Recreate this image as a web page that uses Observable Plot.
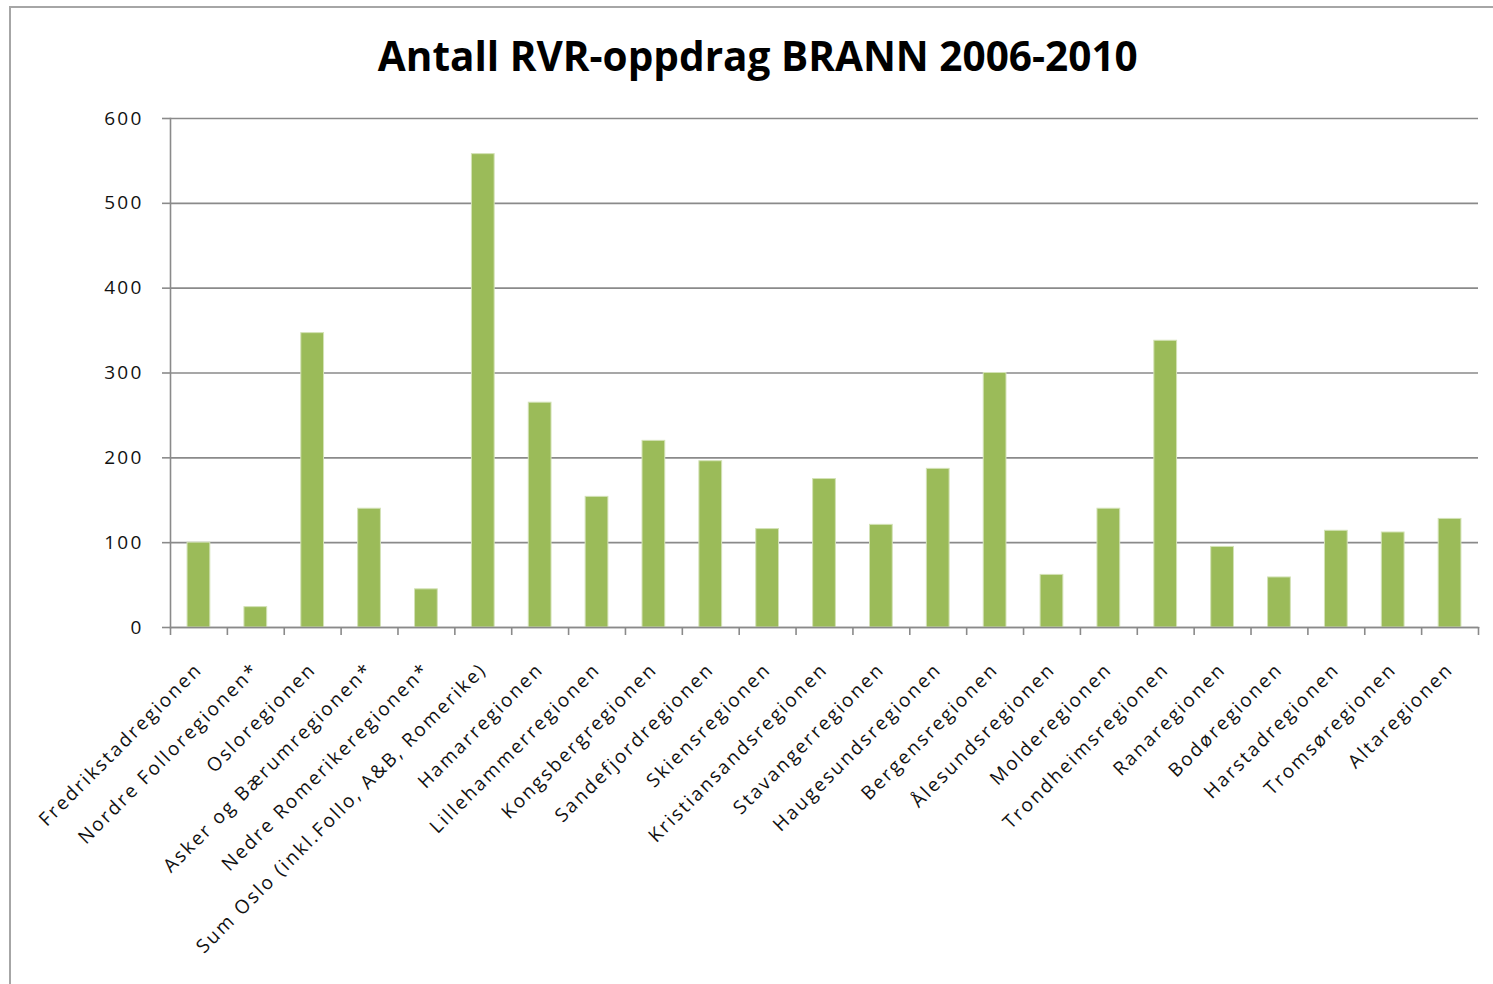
<!DOCTYPE html>
<html><head><meta charset="utf-8">
<script src="https://cdn.jsdelivr.net/npm/d3@7"></script>
<script src="https://cdn.jsdelivr.net/npm/@observablehq/plot@0.6"></script>
<style>
html,body{margin:0;padding:0;background:#fff;overflow:hidden;width:1493px;height:984px;}
#frame{position:absolute;left:9px;top:6px;width:1520px;height:1020px;border:2px solid #a6a6a6;box-sizing:border-box;}
#title{position:absolute;left:0;width:1516px;top:34px;text-align:center;font-family:"Open Sans";font-weight:700;font-size:42px;line-height:1;color:#000;white-space:nowrap;}
#title span{display:inline-block;transform-origin:center;}
#chart{position:absolute;left:0;top:90px;}
</style></head><body>
<div id="frame"></div>
<div id="title"><span>Antall RVR-oppdrag BRANN 2006-2010</span></div>
<div id="chart"></div>
<script>
const categories = [
  "Fredrikstadregionen","Nordre Folloregionen*","Osloregionen","Asker og Bærumregionen*",
  "Nedre Romerikeregionen*","Sum Oslo (inkl.Follo, A&B, Romerike)","Hamarregionen",
  "Lillehammerregionen","Kongsbergregionen","Sandefjordregionen","Skiensregionen",
  "Kristiansandsregionen","Stavangerregionen","Haugesundsregionen","Bergensregionen",
  "Ålesundsregionen","Molderegionen","Trondheimsregionen","Ranaregionen","Bodøregionen",
  "Harstadregionen","Tromsøregionen","Altaregionen"
];
const values = [100, 24, 347, 140, 45, 558, 265, 154, 220, 196, 116, 175, 121, 187, 300, 62, 140, 338, 95, 59, 114, 112, 128];
const yTicks = [0, 100, 200, 300, 400, 500, 600];

const data = categories.map((c, i) => ({cat: c, val: values[i]}));

const W = 1493, H = 894, ML = 170, MR = 15, MT = 28, MB = 357;
const step = (W - ML - MR) / categories.length;

const chart = Plot.plot({
  width: W, height: H,
  marginLeft: ML, marginRight: MR, marginTop: MT, marginBottom: MB,
  style: {fontFamily: "Open Sans", fontSize: "19px", color: "#111", background: "transparent", overflow: "visible"},
  x: {type: "band", domain: categories, paddingInner: 0.6, paddingOuter: 0.3, round: false, axis: null, label: null},
  y: {domain: [0, 600], axis: null, label: null},
  marks: [
    Plot.gridY(yTicks, {stroke: "#8a8a8a", strokeOpacity: 1, strokeWidth: 1.6}),
    Plot.barY(data, {x: "cat", y: "val", fill: "#9BBB59", stroke: "#d3e2b6", strokeWidth: 1}),
    Plot.frame({anchor: "left", stroke: "#8a8a8a", strokeWidth: 1.6}),
    Plot.frame({anchor: "bottom", stroke: "#8a8a8a", strokeWidth: 1.6}),
    Plot.axisY(yTicks, {tickSize: 8, tickPadding: 19, stroke: "#8a8a8a", strokeWidth: 1.6, fill: "#111", fontSize: 19, label: null, tickFormat: d => String(d)}),
    Plot.axisX({tickSize: 8, stroke: "#8a8a8a", strokeWidth: 1.6, dx: -step / 2, label: null, tickFormat: () => ""}),
    Plot.axisX([categories[categories.length - 1]], {tickSize: 8, stroke: "#8a8a8a", strokeWidth: 1.6, dx: step / 2, label: null, tickFormat: () => ""}),
    Plot.axisX({tickSize: 0, tickPadding: 39, tickRotate: -45, fill: "#111", fontSize: 19, label: null, dx: 0})
  ]
});
chart.style.letterSpacing = "2.2px";
document.getElementById("chart").appendChild(chart);

const span = document.querySelector("#title span");
const w = span.getBoundingClientRect().width;
span.style.transform = `scaleX(${760 / w})`;
</script>
</body></html>
